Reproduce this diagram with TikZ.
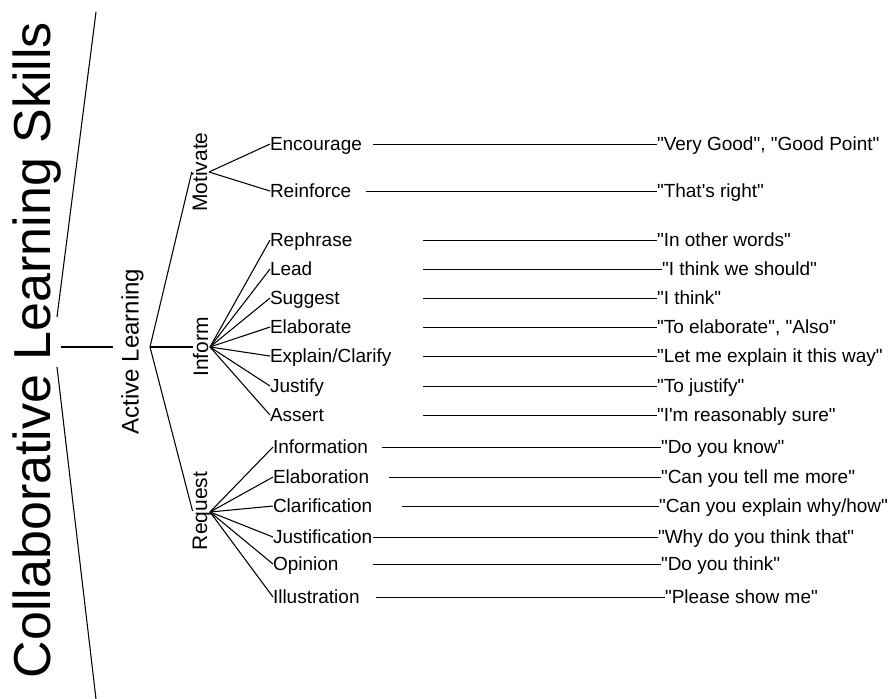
\documentclass[tikz,border=0pt]{standalone}
\usepackage{fontspec}
\setmainfont{Liberation Sans}[Ligatures=TeXOff]
\begin{document}
\begin{tikzpicture}[x=0.75pt,y=-0.75pt,
  every node/.style={inner sep=0pt, outer sep=0pt},
  leaf/.style={anchor=base west, font=\fontsize{14.25pt}{16pt}\selectfont},
  quotetext/.style={anchor=base west, font=\fontsize{14.25pt}{16pt}\selectfont},
  grp/.style={rotate=90, anchor=base, font=\fontsize{15.75pt}{18pt}\selectfont},
  conn/.style={line width=0.8pt, black}]
\useasboundingbox (0,0) rectangle (892,699);

% main rotated labels
\node[rotate=90, anchor=base, font=\fontsize{39pt}{44pt}\selectfont] (title) at (50,350) {Collaborative Learning Skills};
\node[grp, font=\fontsize{18pt}{20pt}\selectfont] (al) at (138.5,351.5) {Active Learning};
\node[grp] (mot) at (207,172) {Motivate};
\node[grp] (inf) at (208,347) {Inform};
\node[grp] (req) at (207,511) {Request};

% helper coordinates
\coordinate (tA) at (96,12);
\coordinate (tB) at (57,317);
\coordinate (tC) at (57,367);
\coordinate (tD) at (96,699);
\coordinate (alL) at (113,347);
\coordinate (alR) at (150,347);
\coordinate (motR) at (209,172);
\coordinate (infR) at (210,347);
\coordinate (reqR) at (210,512);

\draw[conn] (tA) -- (tB);
\draw[conn] (tC) -- (tD);
\draw[conn] (title.south |- alL) -- (alL);
\draw[conn] (alR) -- (mot.north);
\draw[conn] (alR) -- (inf.north);
\draw[conn] (alR) -- (req.north);

\foreach \nm/\txt/\lx/\y/\org/\sx/\qx/\q in {
  enc/Encourage/270/144/motR/373/657/{"Very Good", "Good Point"},
  rei/Reinforce/270/191/motR/366/657/{"That's right"},
  rph/Rephrase/270/240/infR/423/657/{"In other words"},
  lea/Lead/270/269/infR/423/662/{"I think we should"},
  sug/Suggest/270/298/infR/423/657/{"I think"},
  ela/Elaborate/270/327/infR/423/657/{"To elaborate", "Also"},
  exc/{Explain/Clarify}/270/356/infR/423/657/{"Let me explain it this way"},
  jus/Justify/270/386/infR/423/657/{"To justify"},
  ass/Assert/270/415/infR/423/657/{"I'm reasonably sure"},
  inx/Information/273/447/reqR/382/661/{"Do you know"},
  elb/Elaboration/273/477/reqR/389/661/{"Can you tell me more"},
  cla/Clarification/273/506/reqR/402/659/{"Can you explain why/how"},
  jst/Justification/273/537/reqR/373/658/{"Why do you think that"},
  opi/Opinion/273/564/reqR/373/661/{"Do you think"},
  ill/Illustration/273/597/reqR/376/665/{"Please show me"}}
{
  \node[leaf] (\nm) at (\lx,\y+6.3) {\txt};
  \draw[conn] (\org) -- ([yshift=4.7pt]\nm.base west);
  \node[quotetext] (q\nm) at (\qx,\y+6.3) {\q};
  \coordinate (e\nm) at ([yshift=4.7pt]q\nm.base west);
  \coordinate (s\nm) at (\sx,\y);
  \draw[conn] (s\nm |- e\nm) -- (e\nm);
}
\end{tikzpicture}
\end{document}
